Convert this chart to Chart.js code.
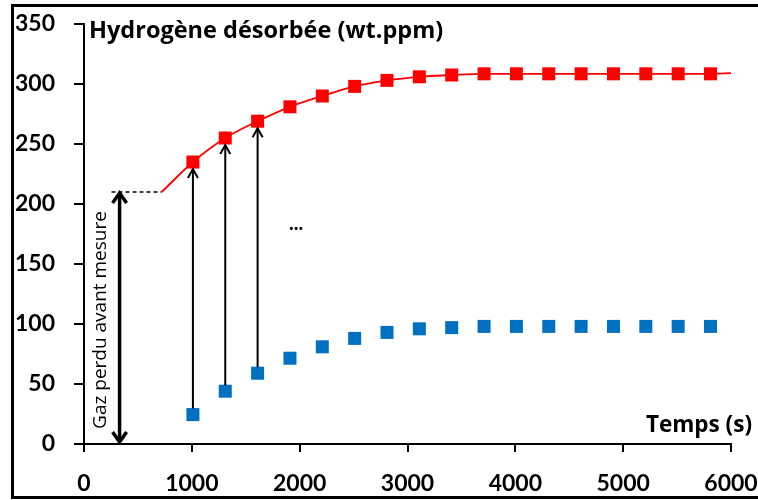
<!DOCTYPE html>
<html>
<head>
<meta charset="utf-8">
<script src="https://cdn.jsdelivr.net/npm/chart.js@4"></script>
<style>
    html, body { margin: 0; padding: 0; background: #fff; overflow: hidden; }
    #wrap { position: relative; width: 758px; height: 500px; }
    #frame { position: absolute; left: 11px; top: 4px; width: 800px; height: 495px; border: 3px solid #000; box-sizing: border-box; }
    #chart { position: absolute; left: 0; top: 0; }
</style>
</head>
<body>
<div id="wrap">
    <div id="frame"></div>
    <canvas id="chart" width="758" height="500"></canvas>
</div>
<script>
// desorption times (s)
const times = [1010, 1310, 1610, 1910, 2210, 2510, 2810, 3110, 3410, 3710, 4010, 4310, 4610, 4910, 5210, 5510, 5810];
// total hydrogen (with lost gas), wt.ppm
const totalH = [235, 255, 269, 281, 290, 298, 303, 306, 307.5, 308.5, 308.5, 308.5, 308.5, 308.5, 308.5, 308.5, 308.5];
// measured hydrogen, wt.ppm
const measuredH = [24.5, 44, 59, 71.5, 81, 88, 93, 96, 97, 98, 98, 98, 98, 98, 98, 98, 98];
// fitted curve, starts at the lost gas level
const fitTimes = [720, 1010, 1310, 1610, 1910, 2210, 2510, 2810, 3110, 3410, 3710, 4010, 4310, 4610, 4910, 5210, 5510, 5810, 6000];
const fitH = [210, 235, 255, 269, 281, 290, 298, 303, 306, 307.5, 308.5, 308.5, 308.5, 308.5, 308.5, 308.5, 308.5, 308.5, 309];
const lostGasLevel = 210;
const lostGasTime = 330;
const dashStart = 255;
const arrowIdx = [0, 1, 2];
const xTicks = [0, 1000, 2000, 3000, 4000, 5000, 6000];
const yTicks = [0, 50, 100, 150, 200, 250, 300, 350];

const toXY = (xs, ys) => xs.map((x, i) => ({ x: x, y: ys[i] }));

function arrowHead(ctx, x, y, dir, half, len) {
    // dir: -1 points up, 1 points down
    ctx.beginPath();
    ctx.moveTo(x - half, y - dir * len);
    ctx.lineTo(x, y);
    ctx.lineTo(x + half, y - dir * len);
    ctx.stroke();
}

const annotations = {
    id: 'annotations',
    afterDatasetsDraw(chart) {
        const ctx = chart.ctx;
        const xs = chart.scales.x;
        const ys = chart.scales.y;
        ctx.save();
        ctx.strokeStyle = '#000';
        ctx.fillStyle = '#000';

        // dashed level line
        ctx.lineWidth = 1.5;
        ctx.setLineDash([4, 3]);
        ctx.beginPath();
        ctx.moveTo(xs.getPixelForValue(dashStart), ys.getPixelForValue(lostGasLevel));
        ctx.lineTo(xs.getPixelForValue(fitTimes[0]), ys.getPixelForValue(lostGasLevel));
        ctx.stroke();
        ctx.setLineDash([]);

        // thick double arrow
        const ax = xs.getPixelForValue(lostGasTime);
        const aTop = ys.getPixelForValue(lostGasLevel);
        const aBot = ys.getPixelForValue(0) - 2;
        ctx.lineWidth = 3.5;
        ctx.beginPath();
        ctx.moveTo(ax, aTop + 2);
        ctx.lineTo(ax, aBot - 2);
        ctx.stroke();
        arrowHead(ctx, ax, aTop + 1, -1, 7, 10);
        arrowHead(ctx, ax, aBot, 1, 7, 10);

        // thin arrows from measured to total
        ctx.lineWidth = 2;
        arrowIdx.forEach((i) => {
            const px = xs.getPixelForValue(times[i]);
            const y0 = ys.getPixelForValue(measuredH[i]) - 6;
            const y1 = ys.getPixelForValue(totalH[i]) + 7;
            ctx.beginPath();
            ctx.moveTo(px, y0);
            ctx.lineTo(px, y1);
            ctx.stroke();
            arrowHead(ctx, px, y1, -1, 5, 9);
        });
        ctx.restore();
    },
    afterDraw(chart) {
        const ctx = chart.ctx;
        ctx.save();
        ctx.fillStyle = '#000';
        ctx.textBaseline = 'alphabetic';
        ctx.textAlign = 'left';
        ctx.font = 'bold 23.5px "Open Sans"';
        ctx.fillText('Hydrogène désorbée (wt.ppm)', 89, 38);
        ctx.font = 'bold 22.5px "Open Sans"';
        ctx.textAlign = 'right';
        ctx.fillText('Temps (s)', 752, 432);
        ctx.textAlign = 'center';
        ctx.font = 'bold 20px Lato';
        ctx.fillText('...', 296, 230);

        ctx.translate(106, 320);
        ctx.rotate(-Math.PI / 2);
        ctx.font = '19px "Open Sans"';
        ctx.fillText('Gaz perdu avant mesure', 0, 0);
        ctx.restore();
    }
};

new Chart(document.getElementById('chart'), {
    type: 'scatter',
    data: {
        datasets: [
            {
                label: 'fit',
                data: toXY(fitTimes, fitH),
                showLine: true,
                borderColor: '#ff0000',
                borderWidth: 1.8,
                pointRadius: 0,
                cubicInterpolationMode: 'monotone',
                order: 3,
            },
            {
                label: 'total',
                data: toXY(times, totalH),
                showLine: false,
                pointStyle: 'rect',
                pointRadius: 9.2,
                pointBackgroundColor: '#ff0000',
                pointBorderWidth: 0,
                order: 2,
            },
            {
                label: 'measured',
                data: toXY(times, measuredH),
                showLine: false,
                pointStyle: 'rect',
                pointRadius: 9.2,
                pointBackgroundColor: '#0070c0',
                pointBorderWidth: 0,
                order: 1,
            },
        ],
    },
    options: {
        responsive: false,
        animation: false,
        layout: { padding: { left: 0, top: 24, right: 27, bottom: 0 } },
        plugins: {
            legend: { display: false },
            tooltip: { enabled: false },
        },
        scales: {
            x: {
                type: 'linear',
                min: 0,
                max: 6000,
                afterFit: (scale) => {
                    scale.height = 56;
                    scale.paddingLeft = 0;
                    scale.paddingRight = 0;
                },
                afterBuildTicks: (scale) => { scale.ticks = xTicks.map((v) => ({ value: v })); },
                border: { display: true, color: '#000', width: 2 },
                grid: { drawOnChartArea: false, drawTicks: true, tickLength: 8, color: '#000', lineWidth: 2 },
                ticks: {
                    color: '#000',
                    padding: 18,
                    maxRotation: 0,
                    callback: (value) => String(value),
                    font: { family: 'Lato', size: 23, weight: 'bold' },
                },
            },
            y: {
                type: 'linear',
                min: 0,
                max: 350,
                afterFit: (scale) => {
                    scale.width = 84;
                    scale.paddingTop = 0;
                    scale.paddingBottom = 0;
                },
                afterBuildTicks: (scale) => { scale.ticks = yTicks.map((v) => ({ value: v })); },
                border: { display: true, color: '#000', width: 2 },
                grid: { drawOnChartArea: false, drawTicks: true, tickLength: 10, color: '#000', lineWidth: 2 },
                ticks: {
                    color: '#000',
                    padding: 19,
                    callback: (value) => String(value),
                    font: { family: 'Lato', size: 23, weight: 'bold' },
                },
            },
        },
    },
    plugins: [annotations],
});
</script>
</body>
</html>
